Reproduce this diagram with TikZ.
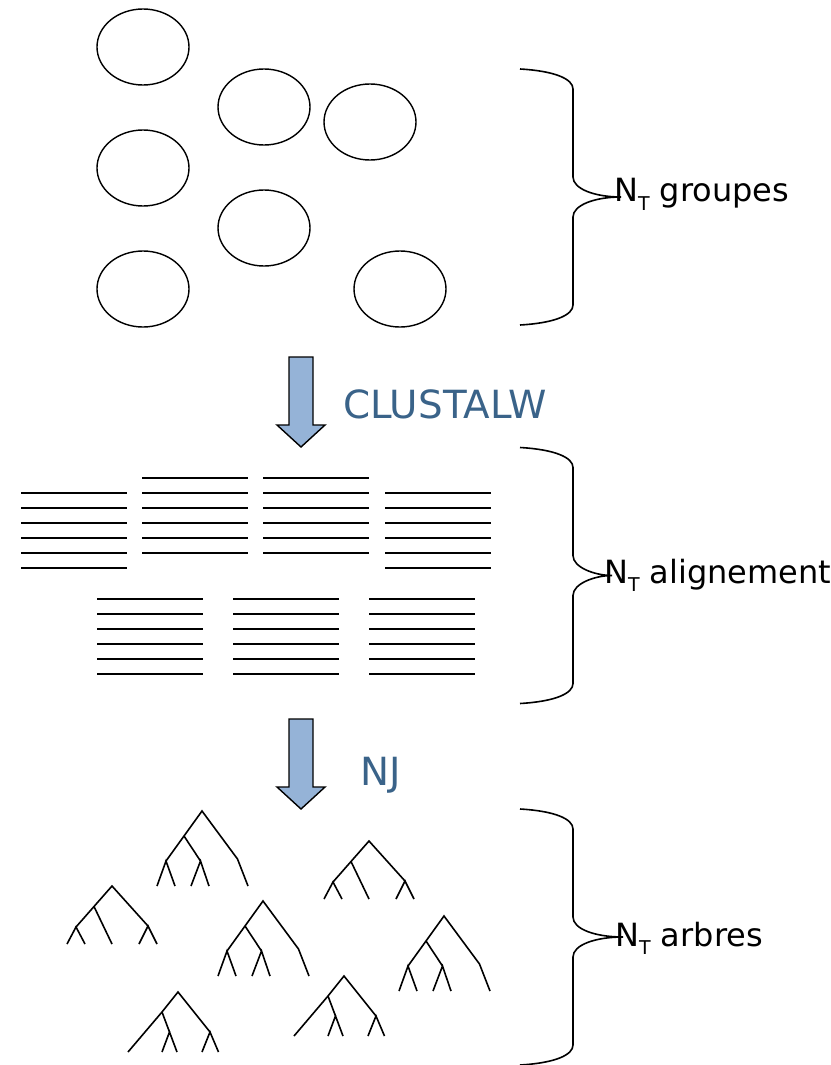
\documentclass[tikz,border=0pt]{standalone}
\usepackage{fontspec}
\setmainfont{DejaVu Sans}
\usetikzlibrary{shapes.geometric}
\definecolor{arrowfill}{HTML}{95B3D7}
\definecolor{stepblue}{HTML}{3A6389}
\tikzset{
  grp/.style={ellipse, draw, line width=1.4pt, minimum width=92pt, minimum height=76pt, inner sep=0pt},
  seq/.style={line width=2pt},
  branch/.style={line width=1.6pt, line join=miter},
  bracepath/.style={line width=1.6pt},
  downarrow/.style={fill=arrowfill, draw=black, line width=1.4pt, line join=miter},
  lbl/.style={anchor=base west, inner sep=0pt, font=\fontsize{32}{38}\selectfont},
  steplbl/.style={anchor=base west, inner sep=0pt, text=stepblue, font=\fontsize{38.8}{46}\selectfont},
  treeA/.pic={
    \draw[branch] (-45,75) -- (-36,50) -- (-27,75);
    \draw[branch] (-36,50) -- (0,0) -- (35.5,48) -- (46,75);
    \draw[branch] (-18,25) -- (-1.5,50);
    \draw[branch] (-11,75) -- (-1.5,50) -- (7,75);
  },
  treeB/.pic={
    \draw[branch] (-45,58) -- (-36,41) -- (-27,58);
    \draw[branch] (-36,41) -- (0,0) -- (36,40);
    \draw[branch] (-18,20.5) -- (0,58);
    \draw[branch] (27,58) -- (36,40) -- (45,58);
  },
  treeC/.pic={
    \draw[branch] (-50,60) -- (-16,20) -- (0,0) -- (32,40);
    \draw[branch] (-16,20) -- (-8.5,40);
    \draw[branch] (-16,60) -- (-8.5,40) -- (-1,60);
    \draw[branch] (24,60) -- (32,40) -- (40.5,60);
  }
}
\newcommand\curlybrace[2]{%
  \draw[bracepath] (520,#1) .. controls (555,{#1+2}) and (573,{#1+10}) .. (573,{#1+20})
    -- (573,{#1+108}) .. controls (573,{#1+120}) and (595,{#1+128}) .. (#2,{#1+128})
    .. controls (595,{#1+128}) and (573,{#1+136}) .. (573,{#1+148})
    -- (573,{#1+236}) .. controls (573,{#1+246}) and (555,{#1+254}) .. (520,{#1+256});
}
\begin{document}
\begin{tikzpicture}[x=1pt,y=-1pt]
\useasboundingbox (0,0) rectangle (830,1065);

% groups
\node[grp] (g1) at (143,47) {};
\node[grp] (g2) at (264,107) {};
\node[grp] (g3) at (370,122) {};
\node[grp] (g4) at (143,168) {};
\node[grp] (g5) at (264,228) {};
\node[grp] (g6) at (143,289) {};
\node[grp] (g7) at (400,289) {};

\curlybrace{69}{621}
\node[lbl] (lgroupes) at (614,201.7) {N\raisebox{-0.26em}{\fontsize{19}{19}\selectfont T} groupes};

% arrow 1
\draw[downarrow] (289,357) -- (313,357) -- (313,425) -- (325,425) -- (301,447) -- (277,425) -- (289,425) -- cycle;
\node[steplbl] (clustal) at (343,418.5) {CLUSTALW};

% alignments
\foreach \x/\y in {21/493, 142/478, 263/478, 385/493, 97/599, 233/599, 369/599}
  \foreach \k in {0,...,5}
    \draw[seq] (\x,{\y+15*\k}) -- ({\x+106},{\y+15*\k});

\curlybrace{447.5}{612}
\node[lbl] (lalign) at (604,583.3) {N\raisebox{-0.26em}{\fontsize{19}{19}\selectfont T} alignement};

% arrow 2
\draw[downarrow] (289,719) -- (313,719) -- (313,787) -- (325,787) -- (301,809) -- (277,787) -- (289,787) -- cycle;
\node[steplbl] (nj) at (360,785.5) {NJ};

% trees
\pic at (202,811) {treeA};
\pic at (369,841) {treeB};
\pic at (112,886) {treeB};
\pic at (263,901) {treeA};
\pic at (444,916) {treeA};
\pic at (178,992) {treeC};
\pic at (344,976) {treeC};

\curlybrace{809}{623}
\node[lbl] (larbres) at (615,946) {N\raisebox{-0.26em}{\fontsize{19}{19}\selectfont T} arbres};
\end{tikzpicture}
\end{document}
